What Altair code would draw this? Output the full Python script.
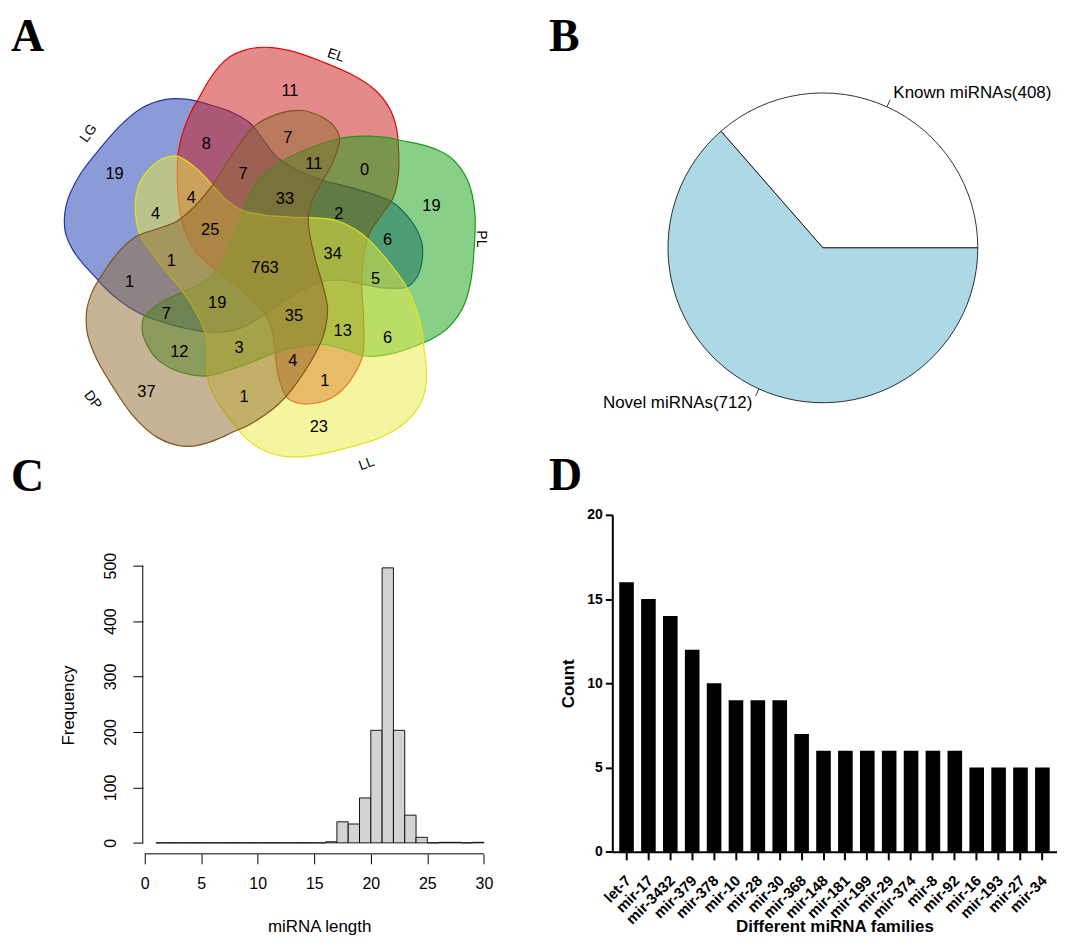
import math
import altair as alt
import pandas as pd

# ---------------- data ----------------
# Panel A: Venn diagram region counts and label positions (page pixels)
venn_counts = [11, 19, 8, 7, 7, 11, 0, 19, 4, 4, 25, 33, 2, 6, 1, 763, 34, 5, 1, 7,
               19, 35, 13, 6, 12, 3, 4, 1, 37, 1, 23]
venn_x = [288, 112, 204, 286, 241, 312, 363, 430, 189, 153, 208, 283, 337, 386, 169, 263,
          331, 374, 127, 164, 215, 292, 341, 386, 177, 237, 291, 323, 144, 242, 317]
venn_y = [90, 173, 143, 137, 173, 163, 169, 205, 197, 213, 229, 198, 213, 239, 260, 267,
          253, 278, 281, 313, 302, 315, 330, 338, 352, 348, 361, 381, 392, 397, 427]

set_names = ["LG", "EL", "PL", "LL", "DP"]
set_fill = ["#1737B1", "#CB1515", "#119F11", "#EBEB41", "#8F692F"]
set_stroke = ["#2436A8", "#E00A0A", "#1A9A1A", "#E2E21E", "#7F5520"]
set_rot = [288, 0, 72, 144, 216]
set_label_x = [86, 334, 480, 365, 90]
set_label_y = [132, 54, 238, 464, 400]
set_label_angle = [306, 18, 90, 340, 52]

# Panel B: pie
pie_names = ["Known miRNAs(408)", "Novel miRNAs(712)"]
pie_counts = [408, 712]
pie_fill = ["#FFFFFF", "#ADD8E6"]

# Panel C: histogram of miRNA length (bins of width 1 from 1 to 30)
hist_start = list(range(1, 30))
hist_counts = [0] * 15 + [2, 38, 34, 81, 203, 496, 203, 50, 10, 0, 1, 1, 0, 1]

# Panel D: miRNA families
families = ["let-7", "mir-17", "mir-3432", "mir-379", "mir-378", "mir-10", "mir-28",
            "mir-30", "mir-368", "mir-148", "mir-181", "mir-199", "mir-29", "mir-374",
            "mir-8", "mir-92", "mir-16", "mir-193", "mir-27", "mir-34"]
family_counts = [16, 15, 14, 12, 10, 9, 9, 9, 7, 6, 6, 6, 6, 6, 6, 6, 5, 5, 5, 5]

# ---------------- Venn shape (style: one outline, rotated 5 times) ----------------
VC = (269, 258)
UNIT = 220.0
EL_OUTLINE = [(175, 163), (177, 145), (182, 127), (189, 110), (197, 96), (206, 80), (216, 66),
              (228, 55), (241, 49), (255, 46), (270, 46), (292, 50), (320, 60), (350, 73),
              (373, 88), (388, 107), (395, 127), (397, 148), (397, 172), (392, 196), (380, 214),
              (368, 232), (362, 255), (360, 283), (362, 318), (361, 355), (348, 381), (331, 397),
              (313, 403), (297, 403), (284, 396), (276, 374), (273, 350), (270, 330), (262, 312),
              (247, 296), (228, 280), (210, 266), (193, 250), (181, 226), (176, 197)]


def smooth_path(pts):
    n = len(pts)
    out = [f"M{pts[0][0]:.4f},{pts[0][1]:.4f}"]
    for i in range(n):
        p0, p1, p2, p3 = pts[(i - 1) % n], pts[i], pts[(i + 1) % n], pts[(i + 2) % n]
        c1 = (p1[0] + (p2[0] - p0[0]) / 6, p1[1] + (p2[1] - p0[1]) / 6)
        c2 = (p2[0] - (p3[0] - p1[0]) / 6, p2[1] - (p3[1] - p1[1]) / 6)
        out.append(f"C{c1[0]:.4f},{c1[1]:.4f},{c2[0]:.4f},{c2[1]:.4f},{p2[0]:.4f},{p2[1]:.4f}")
    return "".join(out) + "Z"


unit_pts = [((x - VC[0]) / UNIT, (y - VC[1]) / UNIT) for x, y in EL_OUTLINE]
SHAPE = smooth_path(unit_pts)

FONT = "Liberation Sans"

# ---------------- Row 1: Venn + pie (pixel-like coordinates) ----------------
W1, H1 = 1049, 507
xs = alt.Scale(domain=[8, 8 + W1], nice=False, zero=False)
ys = alt.Scale(domain=[8 + H1, 8], nice=False, zero=False)

sets_df = pd.DataFrame({"set": set_names, "cx": [VC[0]] * 5, "cy": [VC[1]] * 5,
                        "fill": set_fill, "stroke": set_stroke, "rot": set_rot})
shapes = alt.Chart(sets_df).mark_point(
    shape=SHAPE, filled=True, fillOpacity=0.5, opacity=1, strokeOpacity=1,
    strokeWidth=1.2, size=(2 * UNIT) ** 2
).encode(
    x=alt.X("cx:Q", scale=xs, axis=None),
    y=alt.Y("cy:Q", scale=ys, axis=None),
    fill=alt.Fill("fill:N", scale=None),
    stroke=alt.Stroke("stroke:N", scale=None),
    angle=alt.Angle("rot:Q", scale=None),
)

num_df = pd.DataFrame({"n": venn_counts, "x": venn_x, "y": venn_y})
numbers = alt.Chart(num_df).mark_text(font=FONT, fontSize=16.5, color="black",
                                      align="center", baseline="middle").encode(
    x=alt.X("x:Q", scale=xs, axis=None), y=alt.Y("y:Q", scale=ys, axis=None), text="n:N")

lab_df = pd.DataFrame({"t": set_names, "x": set_label_x, "y": set_label_y, "a": set_label_angle})
set_labels = alt.Chart(lab_df).mark_text(font=FONT, fontSize=14, color="black",
                                         align="center", baseline="middle").encode(
    x=alt.X("x:Q", scale=xs, axis=None), y=alt.Y("y:Q", scale=ys, axis=None),
    text="t:N", angle=alt.Angle("a:Q", scale=None))

# pie
PCX, PCY, PR = 823, 247, 155.5
pie_df = pd.DataFrame({"name": pie_names, "n": pie_counts, "fill": pie_fill, "ord": [2, 1]})
pie = alt.Chart(pie_df).mark_arc(outerRadius=PR, stroke="black", strokeWidth=0.8).encode(
    theta=alt.Theta("n:Q", stack=True,
                    scale=alt.Scale(range=[math.pi / 2, math.pi / 2 + 2 * math.pi])),
    order=alt.Order("ord:Q"),
    fill=alt.Fill("fill:N", scale=None),
    x=alt.value(PCX - 8), y=alt.value(PCY - 8),
)

total = sum(pie_counts)
cum = 0
lead_rows, text_rows = [], []
for name, n in zip(pie_names, pie_counts):
    a = 2 * math.pi * (cum + n / 2) / total
    cum += n
    ca, sa = math.cos(a), math.sin(a)
    lead_rows.append({"x": PCX + PR * ca, "y": PCY - PR * sa,
                      "x2": PCX + 1.05 * PR * ca, "y2": PCY - 1.05 * PR * sa})
    text_rows.append({"t": name, "x": PCX + 1.1 * PR * ca, "y": PCY - 1.1 * PR * sa,
                      "side": "L" if ca >= 0 else "R"})
lead_df = pd.DataFrame(lead_rows)
text_df = pd.DataFrame(text_rows)
leaders = alt.Chart(lead_df).mark_rule(color="black", strokeWidth=0.8).encode(
    x=alt.X("x:Q", scale=xs, axis=None), y=alt.Y("y:Q", scale=ys, axis=None),
    x2="x2:Q", y2="y2:Q")
pie_text_l = alt.Chart(text_df[text_df.side == "L"]).mark_text(
    font=FONT, fontSize=17, align="left", baseline="middle", color="black").encode(
    x=alt.X("x:Q", scale=xs, axis=None), y=alt.Y("y:Q", scale=ys, axis=None), text="t:N")
pie_text_r = alt.Chart(text_df[text_df.side == "R"]).mark_text(
    font=FONT, fontSize=17, align="right", baseline="middle", color="black").encode(
    x=alt.X("x:Q", scale=xs, axis=None), y=alt.Y("y:Q", scale=ys, axis=None), text="t:N")

# panel letters (alphabetic baseline positions)
let_df = pd.DataFrame({"t": ["A", "B", "C", "D"], "x": [8, 548, 8, 548], "y": [49, 49, 491, 490]})
letters = alt.Chart(let_df).mark_text(font="Liberation Serif", fontWeight="bold", fontSize=46,
                                      align="left", baseline="alphabetic", color="black").encode(
    x=alt.X("x:Q", scale=xs, axis=None), y=alt.Y("y:Q", scale=ys, axis=None), text="t:N")

row1 = alt.layer(shapes, numbers, set_labels, pie, leaders, pie_text_l, pie_text_r,
                 letters).properties(width=W1, height=H1)

# ---------------- Row 2 ----------------
spacer = alt.Chart(pd.DataFrame({"v": [0]})).mark_point(opacity=0).encode(
    x=alt.value(0), y=alt.value(0)).properties(width=16.6, height=20)

# Panel C: histogram (R style)
CW, CH = 355.5, 340.3
xC = alt.Scale(domain=[-0.159, 31.15], nice=False, zero=False)
yC = alt.Scale(domain=[-19.8, 591.6], nice=False, zero=False)
axCx = alt.Axis(values=list(range(0, 31, 5)), domain=False, grid=False, tickSize=10,
                tickColor="black", tickWidth=1, labelFont=FONT, labelFontSize=16,
                labelColor="black", labelPadding=12, labelFlush=False, labelOverlap=False,
                title="miRNA length", titleFont=FONT, titleFontSize=17,
                titleFontWeight="normal", titleColor="black", titleX=CW / 2 - 0.7,
                titleY=72.7, titleAlign="center", titleBaseline="middle")
axCy = alt.Axis(values=list(range(0, 501, 100)), domain=False, grid=False, tickSize=10,
                tickColor="black", tickWidth=1, labelFont=FONT, labelFontSize=16,
                labelColor="black", labelAngle=270, labelAlign="center",
                labelBaseline="bottom", labelPadding=14, labelFlush=False,
                labelOverlap=False, title="Frequency", titleFont=FONT, titleFontSize=17,
                titleFontWeight="normal", titleColor="black", titleAngle=270,
                titleX=-74.5, titleY=191, titleAlign="center", titleBaseline="middle")

hist_df = pd.DataFrame({"start": hist_start, "end": [s + 1 for s in hist_start],
                        "count": hist_counts, "zero": [0] * len(hist_start)})
hist = alt.Chart(hist_df).mark_rect(fill="#D3D3D3", stroke="black", strokeWidth=0.9).encode(
    x=alt.X("start:Q", scale=xC, axis=axCx), x2="end:Q",
    y=alt.Y("count:Q", scale=yC, axis=axCy), y2="zero:Q")
xline = alt.Chart(pd.DataFrame({"a": [0], "b": [30]})).mark_rule(
    color="black", strokeWidth=1).encode(
    x=alt.X("a:Q", scale=xC, axis=axCx), x2="b:Q", y=alt.value(CH))
yline = alt.Chart(pd.DataFrame({"a": [0], "b": [500]})).mark_rule(
    color="black", strokeWidth=1).encode(
    y=alt.Y("a:Q", scale=yC, axis=axCy), y2="b:Q", x=alt.value(0))
panelC = alt.layer(hist, xline, yline).properties(width=CW, height=CH)

# Panel D: bar chart (GraphPad style)
DW, DH = 446, 338.3
fam_df = pd.DataFrame({"family": families, "count": family_counts})
panelD = alt.Chart(fam_df).mark_bar(color="black").encode(
    x=alt.X("family:N", sort=None,
            scale=alt.Scale(paddingInner=0.333, paddingOuter=0.317),
            axis=alt.Axis(domainColor="black", domainWidth=2, tickColor="black",
                          tickWidth=2, tickSize=8, labelAngle=315, labelAlign="right",
                          labelBaseline="top", labelPadding=13, labelOffset=-3,
                          labelFont=FONT, labelFontSize=15, labelFontWeight="bold",
                          labelColor="black", labelOverlap=False,
                          title="Different miRNA families",
                          titleFont=FONT, titleFontSize=17, titleFontWeight="bold",
                          titleColor="black", titleX=DW / 2, titleY=74.7,
                          titleAlign="center", titleBaseline="middle")),
    y=alt.Y("count:Q", scale=alt.Scale(domain=[0, 20], nice=False),
            axis=alt.Axis(values=[0, 5, 10, 15, 20], grid=False, domainColor="black",
                          domainWidth=2, tickColor="black", tickWidth=2, tickSize=7,
                          labelPadding=3, labelFont=FONT, labelFontSize=14,
                          labelFontWeight="bold", labelColor="black", title="Count",
                          titleFont=FONT, titleFontSize=17, titleFontWeight="bold",
                          titleColor="black", titleAngle=270, titleX=-43.7,
                          titleY=DH / 2, titleAlign="center", titleBaseline="middle")),
).properties(width=DW, height=DH)

row2 = alt.hconcat(spacer, panelC, panelD, spacing=115.3, bounds="flush")

chart = alt.vconcat(row1, row2, spacing=0, bounds="flush").properties(
    padding=0).configure_view(stroke=None)

chart.save("out.html", embed_options={"renderer": "svg", "actions": False})
